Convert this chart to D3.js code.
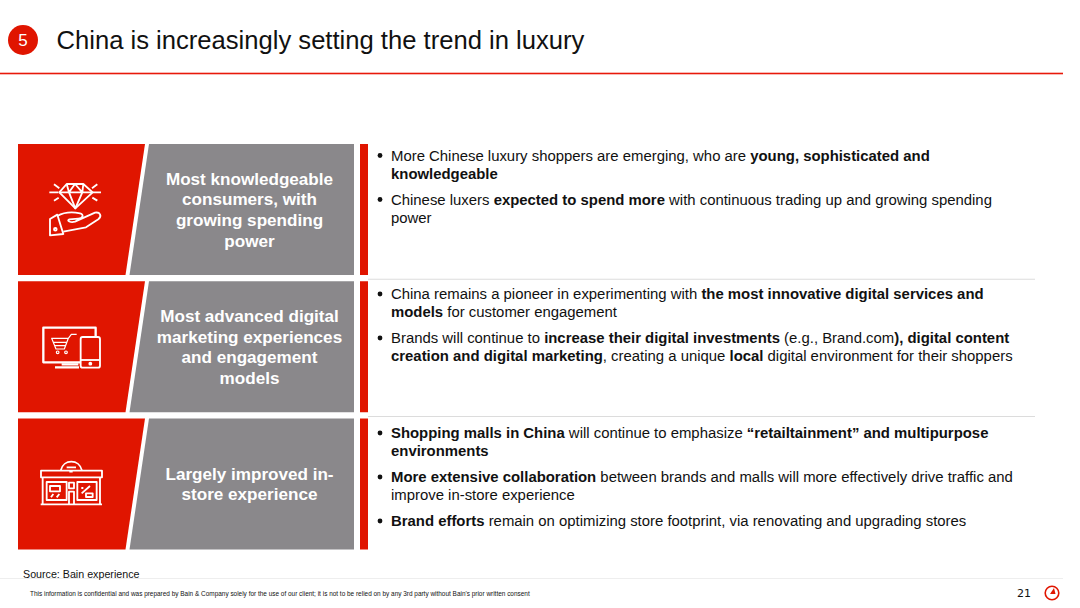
<!DOCTYPE html>
<html>
<head>
<meta charset="utf-8">
<script src="https://cdn.jsdelivr.net/npm/d3@7"></script>
<style>
html, body { margin: 0; padding: 0; background: #fff; }
svg { display: block; }
text { font-family: "Liberation Sans", Arial, sans-serif; }
</style>
</head>
<body>
<script>
var titleText = "China is increasingly setting the trend in luxury";
var sectionNumber = "5";
var sourceText = "Source: Bain experience";
var footerText = "This information is confidential and was prepared by Bain & Company solely for the use of our client; it is not to be relied on by any 3rd party without Bain's prior written consent";
var pageNumber = "21";

var rowIds = ["knowledge", "digital", "store"];

var headings = [
    ["Most knowledgeable", "consumers, with", "growing spending", "power"],
    ["Most advanced digital", "marketing experiences", "and engagement", "models"],
    ["Largely improved in-", "store experience"]
];

// each bullet = lines, each line = runs of [text, bold]
var bullets = [
    [
        [[["More Chinese luxury shoppers are emerging, who are ", 0], ["young, sophisticated and", 1]],
         [["knowledgeable", 1]]],
        [[["Chinese luxers ", 0], ["expected to spend more", 1], [" with continuous trading up and growing spending", 0]],
         [["power", 0]]]
    ],
    [
        [[["China remains a pioneer in experimenting with ", 0], ["the most innovative digital services and", 1]],
         [["models", 1], [" for customer engagement", 0]]],
        [[["Brands will continue to ", 0], ["increase their digital investments", 1], [" (e.g., Brand.com", 0], ["), digital content", 1]],
         [["creation and digital marketing", 1], [", creating a unique ", 0], ["local", 1], [" digital environment for their shoppers", 0]]]
    ],
    [
        [[["Shopping malls in China", 1], [" will continue to emphasize ", 0], ["\u201Cretailtainment\u201D and multipurpose", 1]],
         [["environments", 1]]],
        [[["More extensive collaboration", 1], [" between brands and malls will more effectively drive traffic and", 0]],
         [["improve in-store experience", 0]]],
        [[["Brand efforts", 1], [" remain on optimizing store footprint, via renovating and upgrading stores", 0]]]
    ]
];

var width = 1080, height = 608;
var red = "#e01500", grey = "#8a888b", ink = "#111";
var fontsize = 14.9, lineGap = 18, bulletGap = 26;
var firstLine = [11.5, 12.75, 14.5];

var svg = d3.select("body").append("svg").attr("width", width).attr("height", height);

var y = d3.scaleBand().domain(rowIds).range([144, 549.5]).paddingInner(0.0455);

/* header */
svg.append("circle").attr("cx", 23).attr("cy", 40).attr("r", 15).style("fill", red);
svg.append("text").attr("x", 23).attr("y", 46).attr("text-anchor", "middle")
    .style("font-size", "17px").style("fill", "#fff").text(sectionNumber);
svg.append("text").attr("x", 56.5).attr("y", 48.5)
    .style("font-size", "25.6px").style("fill", ink).text(titleText);
svg.append("rect").attr("x", 0).attr("y", 72.7).attr("width", 1063).attr("height", 1.6)
    .style("fill", "#e8190a");

/* rows */
var rows = svg.selectAll("g.row").data(rowIds).enter().append("g")
    .attr("class", "row")
    .attr("transform", function(d) { return "translate(0," + y(d) + ")"; });

var h = y.bandwidth();

rows.append("path")
    .attr("d", "M18,0 L145,0 L125.5," + h + " L18," + h + " Z")
    .style("fill", red);
rows.append("path")
    .attr("d", "M149,0 L354,0 L354," + h + " L129.5," + h + " Z")
    .style("fill", grey);
rows.append("rect")
    .attr("x", 360).attr("y", 0).attr("width", 8).attr("height", h)
    .style("fill", red);

rows.each(function(d, i) {
    var row = d3.select(this);

    /* heading */
    var lines = headings[i];
    lines.forEach(function(t, k) {
        row.append("text")
            .attr("x", 249.5)
            .attr("y", h / 2 + (k - (lines.length - 1) / 2) * 20.6 + 6.2)
            .attr("text-anchor", "middle")
            .style("font-size", "17.1px").style("font-weight", "bold").style("fill", "#fff")
            .text(t);
    });

    /* bullets */
    var cy = firstLine[i];
    bullets[i].forEach(function(b) {
        row.append("circle").attr("cx", 380).attr("cy", cy).attr("r", 2.4).style("fill", ink);
        b.forEach(function(runs, k) {
            var t = row.append("text").attr("x", 391).attr("y", cy + 5)
                .style("font-size", fontsize + "px").style("fill", ink);
            runs.forEach(function(r) {
                t.append("tspan").style("font-weight", r[1] ? "bold" : "normal").text(r[0]);
            });
            cy += k < b.length - 1 ? lineGap : 0;
        });
        cy += bulletGap;
    });
});

/* row dividers */
svg.selectAll("line.divider").data(rowIds.slice(1)).enter().append("line")
    .attr("class", "divider")
    .attr("x1", 368).attr("x2", 1035)
    .attr("y1", function(d) { return y(d) - 2; })
    .attr("y2", function(d) { return y(d) - 2; })
    .style("stroke", "#dcdcdc").style("stroke-width", 1);

/* icons, drawn in 3x crop units */
function icon(top) {
    return svg.append("g")
        .attr("transform", "translate(0," + top + ") scale(0.3333)")
        .style("fill", "none").style("stroke", "#fff").style("stroke-width", 5.5)
        .style("stroke-linejoin", "round");
}

var gem = icon(130);
gem.append("path").attr("d", "M200,162 L250,162 L278,187 L226,235 L178,187 Z");
gem.append("path").attr("d", "M178,187 L278,187 M200,162 L207,187 L226,235 L247,187 L250,162 M207,187 L225,162 L247,187");
gem.append("path").attr("d", "M148,187 L175,187 M162,163 L178,175 M162,212 L176,203 M278,187 L303,187 M292,163 L276,175 M292,212 L277,203");
gem.append("path").attr("d", "M150,267 L172,254 L190,312 L150,316 Z");
gem.append("path").attr("d", "M172,258 C195,245 215,245 240,250 C252,253 250,265 235,266 L208,268 C198,272 212,279 225,275 L285,248 C300,245 307,258 295,268 L258,292 L190,305");
gem.append("circle").attr("cx", 166).attr("cy", 298).attr("r", 4);

var screen = icon(275);
screen.append("path").attr("d", "M240,262 L130,262 L130,158 L287,158 L287,185").style("stroke-width", 7);
screen.append("rect").attr("x", 242).attr("y", 186).attr("width", 58).attr("height", 92).attr("rx", 6);
screen.append("path").attr("d", "M243,255 L299,255");
screen.append("circle").attr("cx", 271).attr("cy", 266).attr("r", 3).style("fill", "#fff");
screen.append("path").attr("d", "M185,268 L235,268 M165,277 L237,277").style("stroke-width", 7);
screen.append("path").attr("d", "M155,190 L205,190 L193,222 L168,222 Z M160,202 L200,202 M164,212 L196,212 M205,190 L214,178 L230,178").style("stroke-width", 3.5);
screen.append("circle").attr("cx", 173).attr("cy", 232).attr("r", 4).style("stroke-width", 3.5);
screen.append("circle").attr("cx", 198).attr("cy", 232).attr("r", 4).style("stroke-width", 3.5);

var shop = icon(410);
shop.append("path").attr("d", "M182,182 C190,146 238,146 246,182");
shop.append("rect").attr("x", 123).attr("y", 182).attr("width", 183).attr("height", 20);
shop.append("path").attr("d", "M200,172 L228,172 M208,185 L218,185");
shop.append("path").attr("d", "M128,202 L128,283 M300,202 L300,283 M122,283 L306,283");
shop.append("rect").attr("x", 140).attr("y", 216).attr("width", 60).attr("height", 54);
shop.append("rect").attr("x", 232).attr("y", 216).attr("width", 58).attr("height", 54);
shop.append("rect").attr("x", 207).attr("y", 218).attr("width", 15).attr("height", 17);
shop.append("path").attr("d", "M207,283 L207,245 L222,245 L222,283");
shop.append("rect").attr("x", 150).attr("y", 228).attr("width", 30).attr("height", 16);
shop.append("path").attr("d", "M153,262 L160,252 M170,262 L178,252 M245,250 L270,228 M244,234 L250,234");
shop.append("rect").attr("x", 258).attr("y", 250).attr("width", 20).attr("height", 11);

/* footer */
svg.append("line").attr("x1", 0).attr("x2", 1063).attr("y1", 578.5).attr("y2", 578.5)
    .style("stroke", "#eee").style("stroke-width", 1);
svg.append("text").attr("x", 23).attr("y", 578)
    .style("font-size", "10.7px").style("fill", ink).text(sourceText);
svg.append("text").attr("x", 30).attr("y", 596)
    .style("font-size", "6.44px").style("fill", ink).text(footerText);
svg.append("text").attr("x", 1017).attr("y", 597)
    .style("font-size", "11px").style("font-family", "'DejaVu Sans', sans-serif").style("fill", ink).text(pageNumber);
svg.append("circle").attr("cx", 1052).attr("cy", 593).attr("r", 6.8)
    .style("fill", "none").style("stroke", red).style("stroke-width", 1.6);
svg.append("path").attr("d", "M1050,594 L1054,588 L1055.5,594 Z").style("fill", red);
</script>
</body>
</html>
